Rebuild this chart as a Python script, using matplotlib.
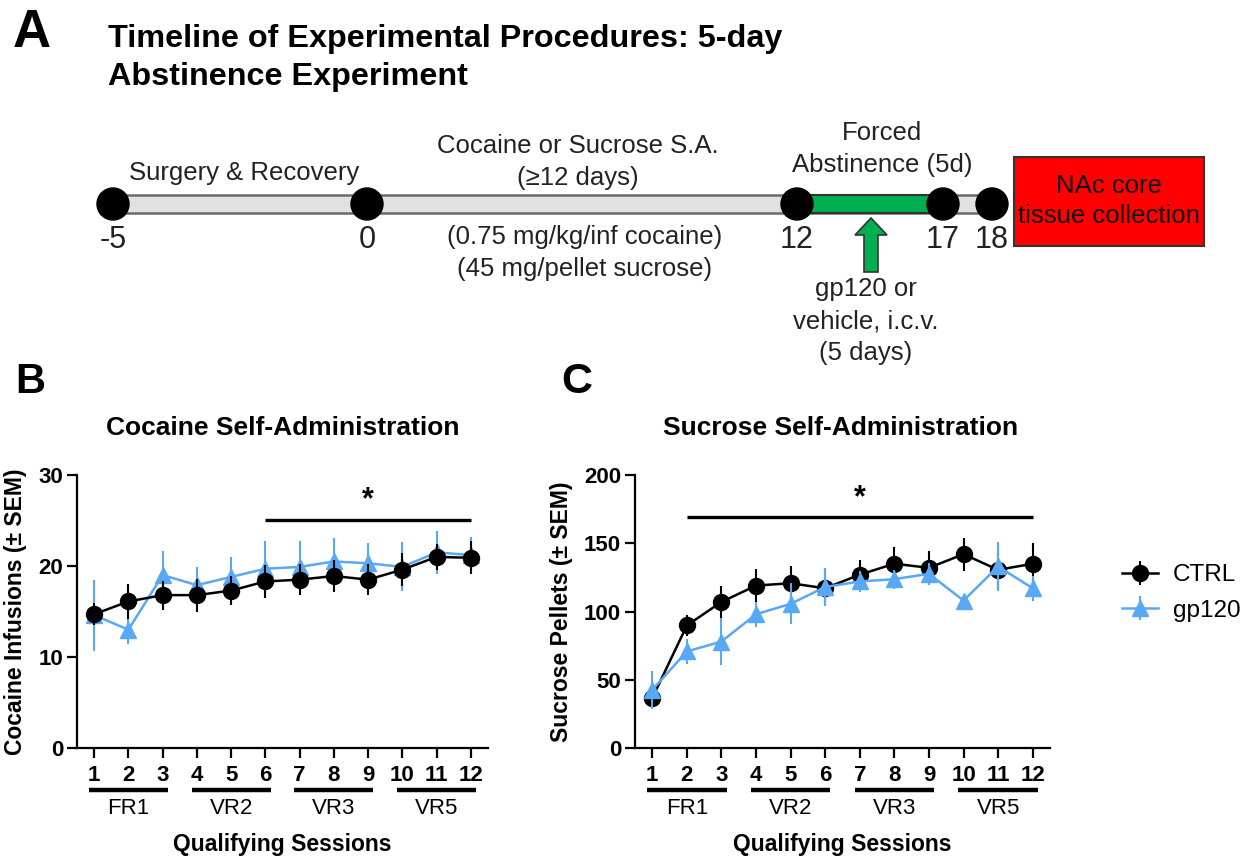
import numpy as np
import matplotlib
matplotlib.use("Agg")
from matplotlib import pyplot as plt
from matplotlib import patches

plt.rcParams['font.family'] = ['Liberation Sans', 'DejaVu Sans']

# ---- data ----
sessions = np.arange(1, 13)
groups = ['FR1', 'VR2', 'VR3', 'VR5']

coc_ctrl = [14.7, 16.1, 16.8, 16.8, 17.3, 18.3, 18.5, 18.9, 18.5, 19.6, 21.0, 20.9]
coc_ctrl_sem = [1.2, 1.9, 1.6, 1.8, 1.6, 1.8, 1.7, 1.8, 1.7, 1.8, 1.4, 1.8]
coc_gp = [14.6, 13.0, 19.0, 17.9, 18.8, 19.7, 19.9, 20.5, 20.3, 19.9, 21.5, 21.2]
coc_gp_sem = [3.9, 1.6, 2.7, 2.0, 2.2, 3.0, 2.8, 2.6, 2.2, 2.7, 2.4, 2.0]

suc_ctrl = [36.6, 89.8, 107, 119, 120.7, 117, 127, 135, 132, 142, 130.5, 135]
suc_ctrl_sem = [5, 8, 12, 12, 12.5, 13, 11, 12, 12, 12, 13, 15]
suc_gp = [42.7, 70.7, 78, 98, 105.6, 118, 122, 123.7, 127.6, 108, 133, 117]
suc_gp_sem = [14, 9, 17, 9, 15, 14, 8, 7, 8, 3, 18, 9]

# timeline (days shown under the nodes)
tl_days = ['-5', '0', '12', '17', '18']

BLUE = '#58A8F4'
TXT = '#222222'

fig = plt.figure(figsize=(12.48, 8.59), dpi=100)
W, H = 1248, 859

# overlay axes in pixel coordinates for the schematic + labels
ax_t = fig.add_axes([0, 0, 1, 1])
ax_t.set_xlim(0, W)
ax_t.set_ylim(H, 0)
ax_t.axis('off')
ax_t.patch.set_visible(False)

# ---- panel A: timeline ----
ax_t.text(13, 33, 'A', fontsize=38, fontweight='bold', va='center', ha='left')
ax_t.text(108, 47, 'Timeline of Experimental Procedures: 5-day',
          fontsize=23.3, fontweight='bold', va='baseline', ha='left')
ax_t.text(108, 85, 'Abstinence Experiment',
          fontsize=23.3, fontweight='bold', va='baseline', ha='left')

node_x = [113, 367, 797, 943, 992]
bar_y = 204
ax_t.add_patch(patches.Rectangle((node_x[0], bar_y - 9), node_x[-1] - node_x[0], 18,
                                 fc='#E2E2E2', ec='#6A6A6A', lw=1.8, zorder=1))
ax_t.add_patch(patches.Rectangle((node_x[2], bar_y - 9), node_x[3] - node_x[2], 18,
                                 fc='#00B050', ec='#333333', lw=1.5, zorder=2))
for x, d in zip(node_x, tl_days):
    ax_t.add_patch(patches.Circle((x, bar_y), 16, fc='black', ec='black', zorder=3))
    ax_t.text(x, 240, d, fontsize=22, ha='center', va='center', color=TXT)

ax_t.add_patch(patches.FancyArrow(871, 272, 0, -54, width=14, head_width=32, head_length=17,
                                  length_includes_head=True, fc='#00B050', ec='#333333', lw=1.2))

ax_t.text(244, 173, 'Surgery & Recovery', fontsize=18.5, ha='center', va='center', color=TXT)
ax_t.text(578, 162, 'Cocaine or Sucrose S.A.\n(\u226512 days)', fontsize=18.5, ha='center',
          va='center', color=TXT, linespacing=1.45)
ax_t.text(585, 253, '(0.75 mg/kg/inf cocaine)\n(45 mg/pellet sucrose)', fontsize=18.5,
          ha='center', va='center', color=TXT, linespacing=1.45)
ax_t.text(882, 149, 'Forced\nAbstinence (5d)', fontsize=18.5, ha='center', va='center',
          color=TXT, linespacing=1.45)
ax_t.text(866, 321, 'gp120 or\nvehicle, i.c.v.\n(5 days)', fontsize=18.5, ha='center',
          va='center', color=TXT, linespacing=1.4)

ax_t.add_patch(patches.Rectangle((1014, 157), 190, 89, fc='#FF0000', ec='#333333', lw=1.5))
ax_t.text(1109, 201, 'NAc core\ntissue collection', fontsize=18.5, ha='center', va='center',
          color='#111111', linespacing=1.3)

# panel letters and titles
ax_t.text(15, 382, 'B', fontsize=30, fontweight='bold', va='center', ha='left')
ax_t.text(561, 382, 'C', fontsize=31, fontweight='bold', va='center', ha='left')
ax_t.text(283, 428, 'Cocaine Self-Administration', fontsize=19, fontweight='bold',
          ha='center', va='center')
ax_t.text(841, 428, 'Sucrose Self-Administration', fontsize=19, fontweight='bold',
          ha='center', va='center')


def panel(ax, ctrl, ctrl_sem, gp, gp_sem, ymax, ystep, ylabel, sig_from, sig_y, star_y,
          ctrl_on_top, ylab_x):
    zc, zg = (4, 3) if ctrl_on_top else (3, 4)
    ax.errorbar(sessions, ctrl, yerr=ctrl_sem, fmt='-o', color='black', ms=11.5, lw=1.8,
                elinewidth=1.5, capsize=0, zorder=zc, label='CTRL')
    ax.errorbar(sessions, gp, yerr=gp_sem, fmt='-^', color=BLUE, ms=11.5, lw=1.8,
                elinewidth=1.5, capsize=0, zorder=zg, label='gp120')
    ax.set_xlim(0.5, 12.5)
    ax.set_ylim(0, ymax)
    ax.set_yticks(np.arange(0, ymax + 1, ystep))
    ax.set_xticks(sessions)
    for s in ['top', 'right']:
        ax.spines[s].set_visible(False)
    for s in ['left', 'bottom']:
        ax.spines[s].set_linewidth(1.6)
    ax.tick_params(axis='both', length=7, width=1.6, labelsize=16, pad=3)
    ax.tick_params(axis='x', pad=5)
    for lab in ax.get_xticklabels() + ax.get_yticklabels():
        lab.set_fontweight('bold')
    ax.set_ylabel(ylabel, fontsize=16.5, fontweight='bold')
    ax.yaxis.set_label_coords(ylab_x, 0.5)
    ax.set_xlabel('Qualifying Sessions', fontsize=16.5, fontweight='bold')
    ax.xaxis.set_label_coords(0.5, -0.31)

    # significance bar
    ax.plot([sig_from, 12], [sig_y, sig_y], color='black', lw=2.4, solid_capstyle='butt')
    ax.text((sig_from + 12) / 2, star_y, '*', fontsize=22, fontweight='bold', ha='center',
            va='center')

    # schedule group bars
    tr = ax.get_xaxis_transform()
    for i, g in enumerate(groups):
        x0 = sessions[3 * i]
        x1 = sessions[3 * i + 2]
        ax.plot([x0 - 0.15, x1 + 0.15], [-0.154, -0.154], transform=tr, color='black',
                lw=3.2, clip_on=False, solid_capstyle='butt')
        ax.text((x0 + x1) / 2, -0.22, g, transform=tr, fontsize=16, ha='center', va='center')


axB = fig.add_axes([77 / W, 1 - 748 / H, 411 / W, 273 / H])
panel(axB, coc_ctrl, coc_ctrl_sem, coc_gp, coc_gp_sem, 30, 10, 'Cocaine Infusions (\u00b1 SEM)',
      6, 25.1, 27.2, True, -0.122)

axC = fig.add_axes([635 / W, 1 - 748 / H, 415 / W, 273 / H])
panel(axC, suc_ctrl, suc_ctrl_sem, suc_gp, suc_gp_sem, 200, 50, 'Sucrose Pellets (\u00b1 SEM)',
      2, 169.5, 183, False, -0.149)

handles, labels = axC.get_legend_handles_labels()
fig.legend(handles, labels, loc='center left', bbox_to_anchor=(1100 / W, 1 - 593 / H),
           frameon=False, fontsize=17.5, handlelength=1.5, labelspacing=0.55, handletextpad=0.6)

plt.savefig('out.png', dpi=100)
